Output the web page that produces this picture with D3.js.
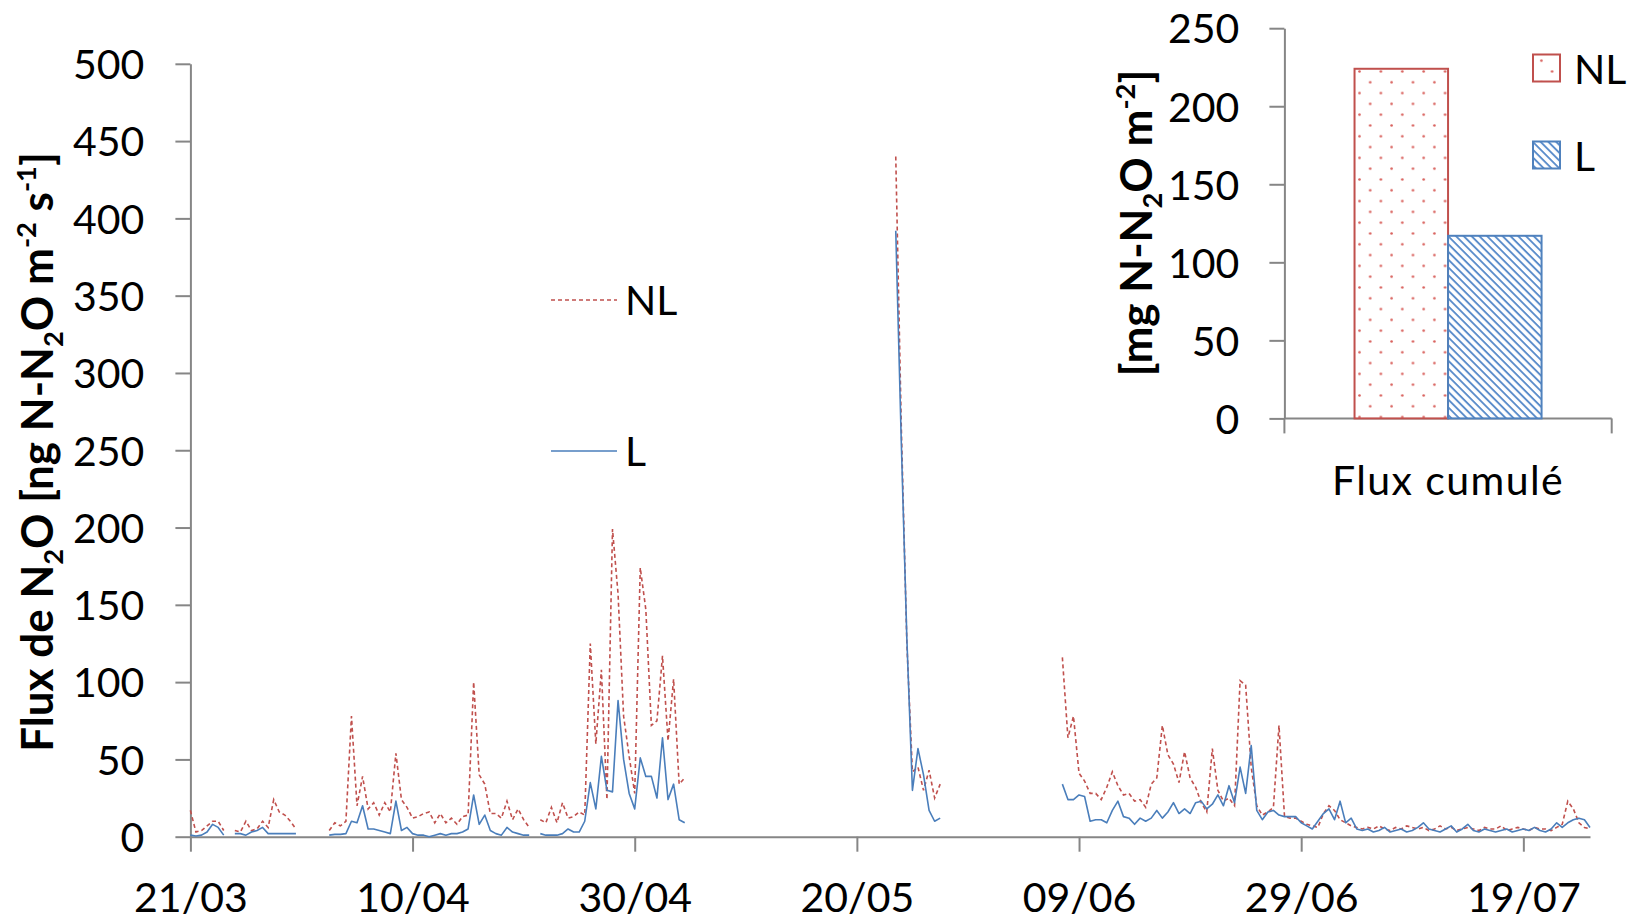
<!DOCTYPE html>
<html>
<head>
<meta charset="utf-8">
<script src="https://cdn.jsdelivr.net/npm/d3@7"></script>
<style>
  body { margin: 0; background: #ffffff; }
  svg text { font-family: Lato, "Open Sans", "DejaVu Sans", sans-serif; fill: #000; }
</style>
</head>
<body>
<svg id="chart" width="1640" height="922"></svg>
<script>
// ---- N2O flux time series (ng N-N2O m-2 s-1), one value every 12 h per measurement campaign ----
const stepHours = 12;

const seg1Start = "2013-03-21T00:00";
const nlSeg1 = [17, 3, 4, 7, 10, 10, 4, null, 4, 3, 10, 4, 5, 10, 6, 24, 16, 14, 10, 5];
const lSeg1  = [1, 0.5, 1, 3, 8, 6, 1, null, 2, 2, 1, 3, 4, 6, 2, 2, 2, 2, 2, 2];

const seg2Start = "2013-04-02T12:00";
const nlSeg2 = [4, 9, 7, 10, 78, 20, 39, 18, 22, 14,
                22, 16, 54, 24, 19, 12, 13, 15, 16, 9,
                15, 9, 12, 8, 13, 14, 100, 40, 34, 15,
                15, 12, 23, 11, 18, 11, 6, null, 11, 9,
                19, 9, 22, 12, 13, 16, 14, 125, 60, 108,
                24, 199, 157, 78, 52, 28, 174, 147, 72, 75,
                117, 62, 102, 34, 38];
const lSeg2  = [1, 1.5, 1.5, 2, 10, 9, 20, 5, 5, 4,
                3, 2, 23, 4, 6, 2, 1, 1, 0, 1,
                2, 1, 2, 2, 3, 5, 27, 8, 14, 4,
                2, 1, 6, 3, 2, 1, 1, null, 2, 1,
                1, 1, 2, 5, 3, 3, 10, 35, 18, 52,
                30, 29, 88, 50, 28, 18, 51, 39, 39, 25,
                64, 24, 34, 11, 9];

const seg3Start = "2013-05-23T12:00";
const nlSeg3 = [440, 265, 125, 42, 45, 30, 43, 25, 34];
const lSeg3  = [392, 255, 128, 30, 57, 40, 17, 10, 12];

const seg4Start = "2013-06-07T12:00";
const nlSeg4 = [116, 64, 78, 41, 36, 28, 28, 24, 32, 42,
                33, 27, 28, 23, 24, 19, 34, 38, 72, 53,
                47, 35, 55, 38, 32, 22, 16, 57, 30, 23,
                25, 20, 101, 98, 45, 20, 14, 16, 19, 72,
                13, 12, 12, 10, 8, 7, 6, 15, 20, 17,
                11, 9, 7, 6, 5, 6, 5, 7, 5, 4,
                6, 5, 7, 6, 5, 6, 4, 5, 7, 5,
                6, 4, 5, 6, 5, 4, 6, 5, 5, 7,
                4, 5, 6, 5, 4, 6, 5, 5, 4, 6,
                8, 23, 18, 9, 6, 5];
const lSeg4  = [34, 24, 24, 27, 26, 10, 11, 11, 9, 17,
                23, 13, 12, 8, 12, 10, 12, 17, 12, 16,
                22, 15, 18, 15, 22, 23, 18, 21, 27, 20,
                33, 22, 45, 28, 59, 17, 11, 16, 17, 14,
                13, 13, 13, 9, 7, 5, 10, 15, 18, 11,
                23, 9, 12, 5, 4, 5, 3, 4, 6, 3,
                4, 5, 3, 4, 6, 9, 5, 4, 3, 5,
                7, 3, 5, 8, 4, 3, 5, 4, 3, 4,
                5, 3, 4, 5, 4, 6, 4, 3, 5, 9,
                6, 9, 11, 12, 11, 6];

const dateStart = "2013-03-21";
const dateEnd = "2013-07-25";
const dateTicks = ["2013-03-21", "2013-04-10", "2013-04-30", "2013-05-20", "2013-06-09", "2013-06-29", "2013-07-19"];
const fluxTicks = [0, 50, 100, 150, 200, 250, 300, 350, 400, 450, 500];

// ---- cumulated flux (mg N-N2O m-2) ----
const cumCategory = ["Flux cumulé"];
const cumSeries = ["NL", "L"];
const cumValues = [224, 117];
const cumTicks = [0, 50, 100, 150, 200, 250];

// ---- drawing ----
const NL_COLOR = "#C0504D";
const L_COLOR = "#4A7EBB";
const AXIS_COLOR = "#868686";
const TICK_FONT = 41;
const TITLE_FONT = 44;

const svg = d3.select("#chart");
const parseTime = d3.utcParse("%Y-%m-%dT%H:%M");
const parseDay = d3.utcParse("%Y-%m-%d");

function toPoints(start, values) {
  const t0 = parseTime(start);
  return values.map((v, i) => ({ date: d3.utcHour.offset(t0, i * stepHours), value: v }));
}

const x = d3.scaleUtc().domain([parseDay(dateStart), parseDay(dateEnd)]).range([190.4, 1590]);
const y = d3.scaleLinear().domain([0, 500]).range([836.7, 63.8]);

// main y axis
const yAxis = svg.append("g").attr("transform", `translate(${x.range()[0]},0)`)
  .call(d3.axisLeft(y).tickValues(fluxTicks).tickSize(15).tickSizeOuter(0).tickPadding(31));
// main x axis
const xAxis = svg.append("g").attr("transform", `translate(0,${y(0)})`)
  .call(d3.axisBottom(x).tickValues(dateTicks.map(parseDay)).tickFormat(d3.utcFormat("%d/%m"))
    .tickSize(15).tickSizeOuter(0).tickPadding(31));

[yAxis, xAxis].forEach(g => {
  g.select(".domain").attr("stroke", AXIS_COLOR).attr("stroke-width", 2);
  g.selectAll(".tick line").attr("stroke", AXIS_COLOR).attr("stroke-width", 2);
  g.selectAll(".tick text").attr("font-size", TICK_FONT).attr("fill", "#000");
});
yAxis.selectAll(".tick text").attr("dy", "0.36em");

const line = d3.line().defined(d => d.value !== null).x(d => x(d.date)).y(d => y(d.value));

const nlSegs = [[seg1Start, nlSeg1], [seg2Start, nlSeg2], [seg3Start, nlSeg3], [seg4Start, nlSeg4]];
const lSegs = [[seg1Start, lSeg1], [seg2Start, lSeg2], [seg3Start, lSeg3], [seg4Start, lSeg4]];

const plot = svg.append("g");
nlSegs.forEach(([s, v]) => {
  plot.append("path").datum(toPoints(s, v)).attr("d", line)
    .attr("fill", "none").attr("stroke", NL_COLOR).attr("stroke-width", 1.6)
    .attr("stroke-dasharray", "4,3");
});
lSegs.forEach(([s, v]) => {
  plot.append("path").datum(toPoints(s, v)).attr("d", line)
    .attr("fill", "none").attr("stroke", L_COLOR).attr("stroke-width", 1.6)
    .attr("stroke-linejoin", "round");
});

// legend of the time series
const legMain = svg.append("g");
[["NL", 300, NL_COLOR, "4,3"], ["L", 451, L_COLOR, null]].forEach(([name, cy, col, dash]) => {
  legMain.append("line").attr("x1", 551).attr("x2", 617).attr("y1", cy).attr("y2", cy)
    .attr("stroke", col).attr("stroke-width", 1.6).attr("stroke-dasharray", dash);
  legMain.append("text").attr("x", 625).attr("y", cy + 15).attr("font-size", TICK_FONT).text(name);
});

// axis title with sub/superscripts
function richTitle(g, parts, size) {
  const t = g.append("text").attr("text-anchor", "middle").attr("font-size", size).attr("font-weight", 700);
  let shift = 0;
  parts.forEach(([txt, kind]) => {
    const target = kind === "sub" ? 0.22 * size : kind === "sup" ? -0.38 * size : 0;
    const ts = t.append("tspan").attr("dy", target - shift).text(txt);
    if (kind) ts.attr("font-size", size * 0.62);
    shift = target;
  });
  return t;
}

richTitle(svg.append("g").attr("transform", "translate(53,452) rotate(-90)"),
  [["Flux de N"], ["2", "sub"], ["O [ng N-N"], ["2", "sub"], ["O m"], ["-2", "sup"], [" s"], ["-1", "sup"], ["]"]], TITLE_FONT);

// ---- inset: cumulated flux bars ----
const defs = svg.append("defs");
const dots = defs.append("pattern").attr("id", "dots").attr("patternUnits", "userSpaceOnUse")
  .attr("width", 21.4).attr("height", 21.6).attr("x", 1358).attr("y", 70);
dots.append("rect").attr("width", 21.4).attr("height", 21.6).attr("fill", "#fff");
dots.append("circle").attr("cx", 1.5).attr("cy", 1.5).attr("r", 1.3).attr("fill", "#D9605C");
dots.append("circle").attr("cx", 12.2).attr("cy", 12.3).attr("r", 1.3).attr("fill", "#D9605C");

const hatch = defs.append("pattern").attr("id", "hatch").attr("patternUnits", "userSpaceOnUse")
  .attr("width", 5.5).attr("height", 5.5).attr("patternTransform", "rotate(45)");
hatch.append("rect").attr("width", 5.5).attr("height", 5.5).attr("fill", "#fff");
hatch.append("rect").attr("width", 5.5).attr("height", 1.9).attr("fill", "#5B8DCB");

const fills = { NL: "url(#dots)", L: "url(#hatch)" };
const strokes = { NL: NL_COLOR, L: "#4F81BD" };

const xc = d3.scaleBand().domain(cumCategory).range([1284.4, 1611.7]).padding(0);
const xs = d3.scaleBand().domain(cumSeries).range([0, xc.bandwidth()]).paddingInner(0).paddingOuter(0.75);
const yc = d3.scaleLinear().domain([0, 250]).range([418.4, 28.2]);

const inset = svg.append("g");
const ycAxis = inset.append("g").attr("transform", `translate(${xc.range()[0]},0)`)
  .call(d3.axisLeft(yc).tickValues(cumTicks).tickSize(15).tickSizeOuter(0).tickPadding(30));
ycAxis.select(".domain").attr("stroke", AXIS_COLOR).attr("stroke-width", 2);
ycAxis.selectAll(".tick line").attr("stroke", AXIS_COLOR).attr("stroke-width", 2);
ycAxis.selectAll(".tick text").attr("font-size", TICK_FONT).attr("dy", "0.36em");

// category axis: line with tick marks on the band edges
inset.append("line").attr("x1", xc.range()[0]).attr("x2", xc.range()[1]).attr("y1", yc(0)).attr("y2", yc(0))
  .attr("stroke", AXIS_COLOR).attr("stroke-width", 2);
xc.range().forEach(px => inset.append("line").attr("x1", px).attr("x2", px).attr("y1", yc(0)).attr("y2", yc(0) + 15)
  .attr("stroke", AXIS_COLOR).attr("stroke-width", 2));
inset.append("text").attr("x", xc(cumCategory[0]) + xc.bandwidth() / 2).attr("y", 495)
  .attr("text-anchor", "middle").attr("font-size", TICK_FONT).attr("letter-spacing", 1.4).text(cumCategory[0]);

inset.selectAll("rect.bar").data(cumSeries.map((s, i) => ({ s, v: cumValues[i] })))
  .join("rect").attr("class", "bar")
  .attr("x", d => xc(cumCategory[0]) + xs(d.s)).attr("width", xs.bandwidth())
  .attr("y", d => yc(d.v)).attr("height", d => yc(0) - yc(d.v))
  .attr("fill", d => fills[d.s]).attr("stroke", d => strokes[d.s]).attr("stroke-width", 2);

// inset legend
[["NL", 54.5], ["L", 141.5]].forEach(([s, top]) => {
  inset.append("rect").attr("x", 1533).attr("y", top).attr("width", 27).attr("height", 27)
    .attr("fill", fills[s]).attr("stroke", strokes[s]).attr("stroke-width", 2);
  inset.append("text").attr("x", 1574).attr("y", top + 29).attr("font-size", TICK_FONT).text(s);
});

richTitle(svg.append("g").attr("transform", "translate(1152,223) rotate(-90)"),
  [["[mg N-N"], ["2", "sub"], ["O m"], ["-2", "sup"], ["]"]], TITLE_FONT);
</script>
</body>
</html>
